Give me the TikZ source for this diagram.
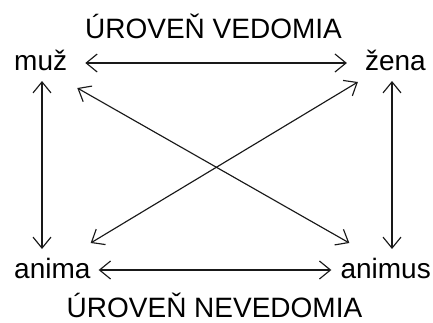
\documentclass[tikz,border=0pt]{standalone}
\usepackage{fontspec}
\setmainfont{Liberation Sans}
\usetikzlibrary{arrows.meta}
\begin{document}
\begin{tikzpicture}[x=1pt,y=-1pt,
  lbl/.style={inner sep=0pt,font=\fontsize{28}{28}\selectfont},
  link/.style={draw=black!90,line width=1.15pt,
    {Straight Barb[length=11pt,width=18pt,line width=1.15pt]}-{Straight Barb[length=11pt,width=18pt,line width=1.15pt]}}]
\useasboundingbox (0,0) rectangle (433,322);

% text labels
\node[lbl,anchor=base] (vedomie) at (213.5,38) {ÚROVEŇ VEDOMIA};
\node[lbl,anchor=base] (nevedomie) at (214.5,317) {ÚROVEŇ NEVEDOMIA};
\node[lbl,anchor=base west] (muz) at (14,70) {muž};
\node[lbl,anchor=base east] (zena) at (426,70) {žena};
\node[lbl,anchor=base west] (anima) at (14,278) {anima};
\node[lbl,anchor=base east] (animus) at (431,278) {animus};

% horizontal links
\draw[link] ([xshift=18pt,yshift=7pt]muz.base east) -- ([xshift=-18pt,yshift=7pt]zena.base west);
\draw[link] ([xshift=8pt,yshift=8pt]anima.base east) -- ([xshift=-9pt,yshift=8pt]animus.base west);

% vertical links
\draw[link] ([xshift=28pt,yshift=-11pt]muz.base west) -- ([xshift=28pt,yshift=29pt]anima.base west);
\draw[link] ([xshift=-34pt,yshift=-11pt]zena.base east) -- ([xshift=-39pt,yshift=29pt]animus.base east);

% diagonal links
\draw[link] ([xshift=10pt,yshift=-18pt]muz.base east) -- ([xshift=9pt,yshift=35pt]animus.base west);
\draw[link] ([xshift=-7pt,yshift=-12pt]zena.base west) -- ([xshift=0pt,yshift=35pt]anima.base east);
\end{tikzpicture}
\end{document}
